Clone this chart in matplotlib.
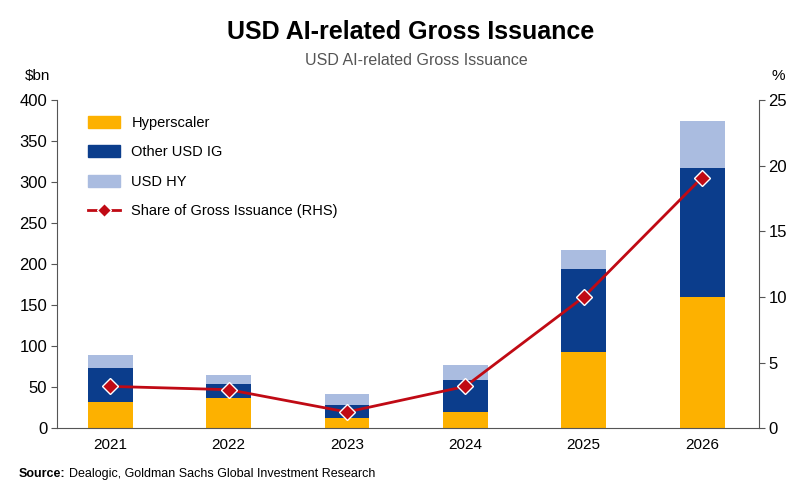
import matplotlib.pyplot as plt
import numpy as np
from matplotlib.lines import Line2D
from matplotlib.patches import Patch

plt.rcParams['font.family'] = ['Liberation Sans', 'DejaVu Sans']

years = ['2021', '2022', '2023', '2024', '2025', '2026']
hyperscaler = [32, 37, 13, 20, 93, 160]
other_ig = [42, 17, 16, 39, 101, 157]
usd_hy = [15, 11, 13, 18, 23, 58]
share = [3.2, 2.95, 1.25, 3.2, 10.0, 19.1]

c_hyp = '#FDB100'
c_ig = '#0B3D8C'
c_hy = '#AABCE0'
c_line = '#C00A14'

fig = plt.figure(figsize=(8.09, 4.93), dpi=100)
ax = fig.add_axes([0.0705, 0.131, 0.8675, 0.666])
x = np.arange(len(years))
w = 0.38
hyp = np.array(hyperscaler)
ig = np.array(other_ig)
ax.bar(x, hyp, w, color=c_hyp, zorder=2)
ax.bar(x, ig, w, bottom=hyp, color=c_ig, zorder=2)
ax.bar(x, usd_hy, w, bottom=hyp + ig, color=c_hy, zorder=2)

ax.set_xlim(-0.45, 5.48)
ax.set_ylim(0, 400)
ax.set_yticks(np.arange(0, 401, 50))
ax.set_xticks(x)
ax.set_xticklabels(years)
for s in ['top', 'right']:
    ax.spines[s].set_visible(False)
ax.spines['left'].set_color('#555555')
ax.spines['bottom'].set_color('#555555')
ax.tick_params(axis='y', labelsize=12, length=4, color='#555555', pad=3)
ax.tick_params(axis='x', labelsize=11, length=0, pad=7)

# share of gross issuance on the right axis
ax2 = ax.twinx()
ax2.set_ylim(0, 25)
ax2.set_yticks(np.arange(0, 26, 5))
ax2.plot(x, share, color=c_line, lw=2, marker='D', ms=8, mfc=c_line,
         mec='white', mew=1, zorder=5)
for s in ['top', 'left', 'bottom']:
    ax2.spines[s].set_visible(False)
ax2.spines['right'].set_color('#555555')
ax2.tick_params(axis='y', labelsize=12, length=4, color='#555555', pad=3)

fig.text(0.031, 0.845, '$bn', fontsize=11, ha='left', va='center')
fig.text(0.962, 0.845, '%', fontsize=11, ha='center', va='center')

handles = [Patch(color=c_hyp), Patch(color=c_ig), Patch(color=c_hy),
           Line2D([0], [0], color=c_line, lw=2, marker='D', ms=7, mfc=c_line, mec='white')]
labels = ['Hyperscaler', 'Other USD IG', 'USD HY', 'Share of Gross Issuance (RHS)']
ax.legend(handles, labels, loc='upper left', bbox_to_anchor=(0.025, 0.992), frameon=False,
          fontsize=10.5, handlelength=2.2, handleheight=0.9, labelspacing=1.05, handletextpad=0.8)

fig.text(0.508, 0.935, 'USD AI-related Gross Issuance', fontsize=18, fontweight='bold',
         ha='center', va='center')
fig.text(0.515, 0.878, 'USD AI-related Gross Issuance', fontsize=11.5, color='#555555',
         ha='center', va='center')
src = fig.text(0.023, 0.038, 'Source:', fontsize=9, fontweight='bold', ha='left', va='center')
ax.annotate('Dealogic, Goldman Sachs Global Investment Research', xy=(1, 0.5),
            xycoords=src, xytext=(3, 0), textcoords='offset points',
            fontsize=9, ha='left', va='center', annotation_clip=False)

fig.savefig('out.png', dpi=100)
